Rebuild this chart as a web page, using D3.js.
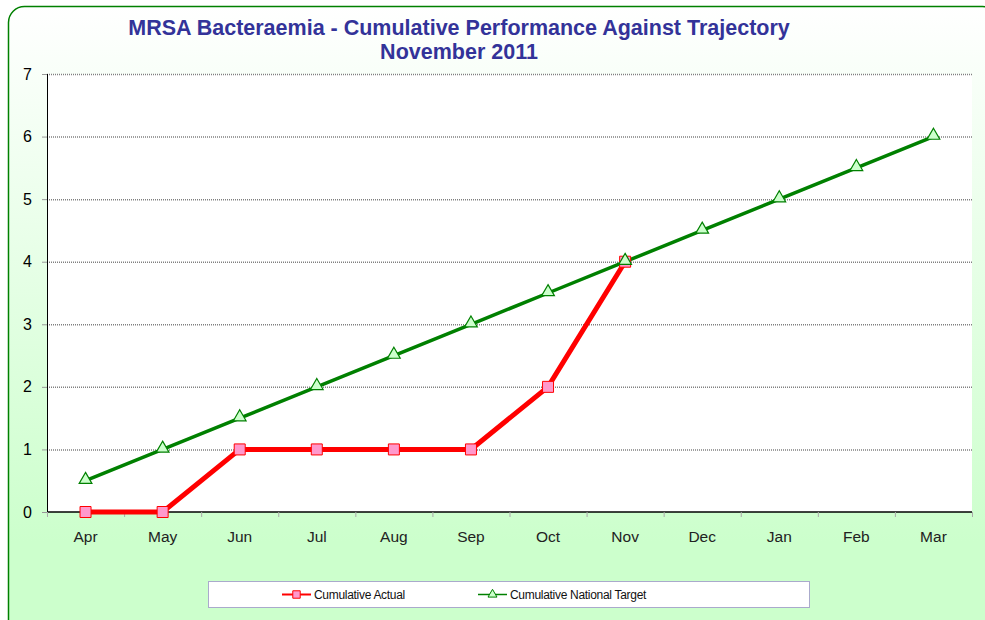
<!DOCTYPE html>
<html>
<head>
<meta charset="utf-8">
<script src="https://cdnjs.cloudflare.com/ajax/libs/d3/7.8.5/d3.min.js"></script>
<style>
  body { margin: 0; background: #fff; }
  svg { display: block; font-family: Arial, "Liberation Sans", sans-serif; }
</style>
</head>
<body>
<div id="viz"></div>
<script>
// chart data
var months = ['Apr','May','Jun','Jul','Aug','Sep','Oct','Nov','Dec','Jan','Feb','Mar'];
var actual = [0, 0, 1, 1, 1, 1, 2, 4];
var target = [0.5, 1, 1.5, 2, 2.5, 3, 3.5, 4, 4.5, 5, 5.5, 6];
var yTicks = [0, 1, 2, 3, 4, 5, 6, 7];
var titleLines = ['MRSA Bacteraemia - Cumulative Performance Against Trajectory', 'November 2011'];
var legendNames = ['Cumulative Actual', 'Cumulative National Target'];

var W = 985, H = 620,
    margin = { top: 74, right: 13, bottom: 108, left: 47 },
    width = W - margin.left - margin.right,
    height = H - margin.top - margin.bottom;

var svg = d3.select('#viz').append('svg')
  .attr('width', W)
  .attr('height', H);

var grad = svg.append('defs').append('linearGradient')
  .attr('id', 'bg').attr('x1', 0).attr('y1', 0).attr('x2', 0).attr('y2', 1);
grad.append('stop').attr('offset', '0%').attr('stop-color', '#ffffff');
grad.append('stop').attr('offset', '85%').attr('stop-color', '#ccffcc');
grad.append('stop').attr('offset', '100%').attr('stop-color', '#ccffcc');

// outer frame
svg.append('rect')
  .attr('x', 8.5).attr('y', 6.5)
  .attr('width', 990).attr('height', 630)
  .attr('rx', 16).attr('ry', 16)
  .attr('fill', 'url(#bg)')
  .attr('stroke', '#008000')
  .attr('stroke-width', 1.5);

// title
svg.append('g').selectAll('text').data(titleLines)
  .enter().append('text')
  .attr('x', 459)
  .attr('y', function(d, i) { return 34.5 + i * 24; })
  .attr('text-anchor', 'middle')
  .attr('fill', '#333399')
  .attr('font-weight', 'bold')
  .attr('font-size', '21.5px')
  .text(function(d) { return d; });

var xScale = d3.scaleBand()
  .domain(months)
  .range([0, width]);

var yScale = d3.scaleLinear()
  .domain([0, 7])
  .range([height, 0]);

var chart = svg.append('g')
  .attr('transform', 'translate(' + margin.left + ',' + margin.top + ')');

chart.append('rect')
  .attr('width', width).attr('height', height)
  .attr('fill', '#fff');

// gridlines
chart.append('g').selectAll('line').data(yTicks.slice(1))
  .enter().append('line')
  .attr('x1', 0).attr('x2', width)
  .attr('y1', function(d) { return yScale(d) + 0.5; })
  .attr('y2', function(d) { return yScale(d) + 0.5; })
  .attr('stroke', '#808080')
  .attr('stroke-width', 1.5)
  .attr('stroke-dasharray', '1,1');

// y axis
var yGuide = chart.append('g')
  .call(d3.axisLeft(yScale).tickValues(yTicks).tickSize(5).tickPadding(10).tickFormat(d3.format('d')));
yGuide.select('.domain').attr('stroke', '#000').attr('d', 'M0.5,0V' + height);
yGuide.selectAll('.tick line').attr('stroke', '#999');
yGuide.selectAll('text').attr('font-size', '16px').attr('fill', '#000')
  .attr('font-family', 'Arial, "Liberation Sans", sans-serif');

// x axis, ticks between categories
var xGuide = chart.append('g')
  .attr('transform', 'translate(0,' + height + ')')
  .call(d3.axisBottom(xScale).tickSize(0).tickPadding(19));
xGuide.select('.domain').attr('stroke', '#000').attr('stroke-width', 1.5).attr('d', 'M0,0H' + width);
xGuide.selectAll('text').attr('font-size', '15.5px').attr('fill', '#222')
  .attr('font-family', 'Arial, "Liberation Sans", sans-serif');
xGuide.append('g').selectAll('line').data(d3.range(months.length + 1))
  .enter().append('line')
  .attr('x1', function(i) { return i * xScale.step() + 0.5; })
  .attr('x2', function(i) { return i * xScale.step() + 0.5; })
  .attr('y1', 0).attr('y2', 5)
  .attr('stroke', '#aaa');

var cx = function(d, i) { return xScale(months[i]) + xScale.bandwidth() / 2; };
var line = d3.line()
  .x(function(d, i) { return cx(d, i); })
  .y(function(d) { return yScale(d); });

// target series
chart.append('path').datum(target)
  .attr('d', line)
  .attr('fill', 'none')
  .attr('stroke', '#008000')
  .attr('stroke-width', 3.5);

// actual series
chart.append('path').datum(actual)
  .attr('d', line)
  .attr('fill', 'none')
  .attr('stroke', '#ff0000')
  .attr('stroke-width', 5);

var sq = d3.symbol().type(d3.symbolSquare).size(121);
var tri = d3.symbol().type(d3.symbolTriangle).size(70);

chart.append('g').selectAll('path').data(actual)
  .enter().append('path')
  .attr('d', sq)
  .attr('transform', function(d, i) { return 'translate(' + cx(d, i) + ',' + yScale(d) + ')'; })
  .attr('fill', '#ff99cc')
  .attr('stroke', '#ff0000')
  .attr('stroke-width', 1);

chart.append('g').selectAll('path').data(target)
  .enter().append('path')
  .attr('d', tri)
  .attr('transform', function(d, i) { return 'translate(' + cx(d, i) + ',' + (yScale(d) - 1) + ')'; })
  .attr('fill', '#ccffcc')
  .attr('stroke', '#008000')
  .attr('stroke-width', 1.2);

// legend
var legend = svg.append('g');
legend.append('rect')
  .attr('x', 208.5).attr('y', 581.5)
  .attr('width', 601).attr('height', 26)
  .attr('fill', '#fff')
  .attr('stroke', '#aaaacc');

var legendX = [282, 478];
var legendColors = ['#ff0000', '#008000'];
var items = legend.selectAll('g.item').data(legendNames)
  .enter().append('g')
  .attr('class', 'item')
  .attr('transform', function(d, i) { return 'translate(' + legendX[i] + ',594.5)'; });

items.append('line')
  .attr('x1', 0).attr('x2', 29)
  .attr('stroke', function(d, i) { return legendColors[i]; })
  .attr('stroke-width', function(d, i) { return i == 0 ? 2 : 1.5; });

items.append('path')
  .attr('d', function(d, i) {
    return i == 0 ? d3.symbol().type(d3.symbolSquare).size(55)() : d3.symbol().type(d3.symbolTriangle).size(35)();
  })
  .attr('transform', 'translate(14.5,0)')
  .attr('fill', function(d, i) { return i == 0 ? '#ff99cc' : '#ccffcc'; })
  .attr('stroke', function(d, i) { return legendColors[i]; })
  .attr('stroke-width', 1);

items.append('text')
  .attr('x', 32)
  .attr('y', 4.5)
  .attr('font-size', '12px')
  .attr('letter-spacing', '-0.3px')
  .attr('fill', '#111')
  .text(function(d) { return d; });
</script>
</body>
</html>
